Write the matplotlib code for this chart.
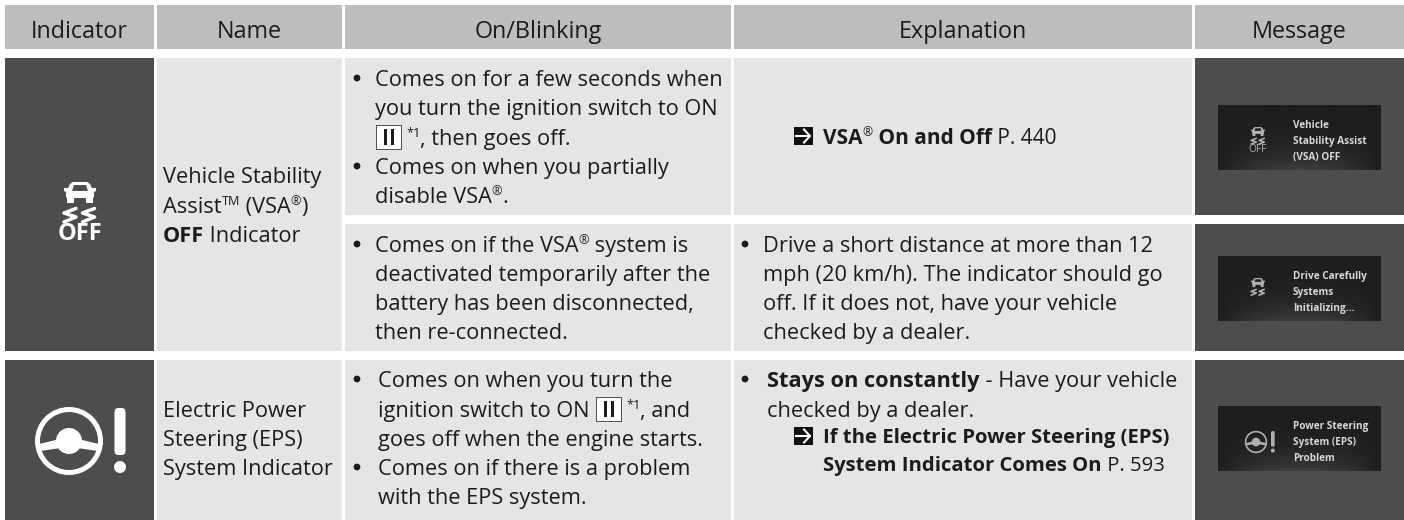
# Recreate the indicator table
import matplotlib
matplotlib.use('Agg')
import numpy as np
from matplotlib import pyplot as plt
from matplotlib.patches import Rectangle, Circle, Polygon, FancyBboxPatch
from matplotlib.colors import LinearSegmentedColormap

plt.rcParams['font.family'] = ['Open Sans', 'DejaVu Sans']

# table contents, 0 regular, 1 bold, 2 raised small, 3 raised small bold
headers = ['Indicator', 'Name', 'On/Blinking', 'Explanation', 'Message']

name_vsa = [[('Vehicle Stability', 0)],
            [('Assist', 0), ('TM', 2), (' (VSA', 0), ('®', 2), (')', 0)],
            [('OFF', 1), (' Indicator', 0)]]
name_eps = [[('Electric Power', 0)], [('Steering (EPS)', 0)], [('System Indicator', 0)]]

blink_1 = [[('Comes on for a few seconds when', 0)],
           [('you turn the ignition switch to ON', 0)],
           [('BOX', 0), ('*1', 2), (', then goes off.', 0)],
           [('Comes on when you partially', 0)],
           [('disable VSA', 0), ('®', 2), ('.', 0)]]
blink_1_bullets = [0, 3]
blink_2 = [[('Comes on if the VSA', 0), ('®', 2), (' system is', 0)],
           [('deactivated temporarily after the', 0)],
           [('battery has been disconnected,', 0)],
           [('then re-connected.', 0)]]
blink_2_bullets = [0]
blink_3 = [[('Comes on when you turn the', 0)],
           [('ignition switch to ON ', 0), ('BOX', 0), ('*1', 2), (', and', 0)],
           [('goes off when the engine starts.', 0)],
           [('Comes on if there is a problem', 0)],
           [('with the EPS system.', 0)]]
blink_3_bullets = [0, 3]

expl_1 = [('VSA', 1), ('®', 3), (' On and Off', 1), (' P. 440', 0)]
expl_2 = [[('Drive a short distance at more than 12', 0)],
          [('mph (20 km/h). The indicator should go', 0)],
          [('off. If it does not, have your vehicle', 0)],
          [('checked by a dealer.', 0)]]
expl_3 = [[('Stays on constantly', 1), (' - Have your vehicle', 0)],
          [('checked by a dealer.', 0)]]
expl_3_ref = [[('If the Electric Power Steering (EPS)', 1)],
              [('System Indicator Comes On', 1), (' P. 593', 0)]]

msg_1 = ['Vehicle', 'Stability Assist', '(VSA) OFF']
msg_2 = ['Drive Carefully', 'Systems', 'Initializing...']
msg_3 = ['Power Steering', 'System (EPS)', 'Problem']

HEAD = '#bdbdbd'
CELL = '#e5e5e5'
DARK = '#4d4d4d'
TXT = '#1c1c1c'
FS = 15.7
FS_HEAD = 16.8
FS_REF = 14.6

fig = plt.figure(figsize=(14.04, 5.2), dpi=100)
ax = fig.add_axes([0, 0, 1, 1])
ax.set_xlim(0, 1404)
ax.set_ylim(520, 0)
ax.axis('off')


def box(x0, y0, x1, y1, color, z=1):
    ax.add_patch(Rectangle((x0, y0), x1 - x0, y1 - y0, fc=color, ec='none', zorder=z))


def runs(x, y, parts, size=FS):
    # draw text pieces one after the other on one baseline
    rend = fig.canvas.get_renderer()
    for s, kind in parts:
        if s == 'BOX':
            box(x + 1, y - 20, x + 27, y + 5, '#555555', 3)
            box(x + 2, y - 19, x + 26, y + 4, 'white', 3)
            box(x + 9, y - 16, x + 12, y, TXT, 4)
            box(x + 15.5, y - 16, x + 18.5, y, TXT, 4)
            x += 31
            continue
        small = kind in (2, 3)
        t = ax.text(x, y - (8 if small else 0), s, fontsize=size * (0.58 if small else 1),
                    fontweight='bold' if kind == 1 else 'normal', color=TXT,
                    va='baseline', ha='left', zorder=5)
        x += t.get_window_extent(rend).width


def block(x, baselines, lines, bullets=(), bullet_x=None, size=FS):
    for i, (y, parts) in enumerate(zip(baselines, lines)):
        runs(x, y, parts, size)
        if i in bullets:
            ax.add_patch(Circle((bullet_x, y - 8), 3.4, fc=TXT, ec='none', zorder=5))


def arrow_icon(x, y):
    box(x, y, x + 19, y + 18, '#111111', 4)
    ax.plot([x + 2, x + 16], [y + 9, y + 9], color='white', lw=1.5, zorder=5)
    ax.plot([x + 10, x + 16, x + 10], [y + 2.5, y + 9, y + 15.5], color='white', lw=1.5, zorder=5)


def car_icon(cx, top, s=1.0, color='white', label=True, window=DARK):
    # car body, squiggles and OFF text, s=1 is the big one
    body = [(-10, 2), (-7, 0), (7, 0), (10, 2), (12, 6), (16, 6), (16, 9), (14, 10), (14, 15), (13, 16),
            (13, 21), (6, 21), (6, 16), (-6, 16), (-6, 21), (-13, 21), (-13, 16), (-14, 15), (-14, 10),
            (-16, 9), (-16, 6), (-12, 6)]
    ax.add_patch(Polygon([(cx + a * s, top + b * s) for a, b in body], fc=color, ec='none', zorder=5))
    win = [(-8, 9), (-6, 3), (6, 3), (8, 9)]
    ax.add_patch(Polygon([(cx + a * s, top + b * s) for a, b in win], fc=window, ec='none', zorder=6))
    for dx in (-10, 8.5):
        ax.plot([cx + (dx + 6) * s, cx + (dx - 6) * s, cx + (dx + 6) * s, cx + (dx - 6) * s],
                [top + 26.5 * s, top + 31 * s, top + 35 * s, top + 40 * s], color=color, lw=2.3 * s + 0.2,
                solid_capstyle='round', solid_joinstyle='round', zorder=5)
    if label:
        ax.text(cx, top + 58 * s, 'OFF', fontsize=17 * s, fontweight='bold' if s == 1 else 'normal',
                color=color, ha='center', va='baseline', zorder=5)


def wheel_icon(cx, cy, s=1.0, color='white'):
    ax.add_patch(Circle((cx, cy), 31.5 * s, fc='none', ec=color, lw=3.6 * s, zorder=5))
    ax.add_patch(Circle((cx, cy), 13 * s, fc=color, ec='none', zorder=5))
    ax.add_patch(Polygon([(cx - 9 * s, cy - 2 * s), (cx - 30 * s, cy + 3 * s), (cx - 29 * s, cy + 10 * s), (cx - 8 * s, cy + 7 * s)],
                         fc=color, ec='none', zorder=5))
    ax.add_patch(Polygon([(cx + 9 * s, cy - 2 * s), (cx + 30 * s, cy + 3 * s), (cx + 29 * s, cy + 10 * s), (cx + 8 * s, cy + 7 * s)],
                         fc=color, ec='none', zorder=5))
    ax.add_patch(FancyBboxPatch((cx + 49.5 * s, cy - 29 * s), 3 * s, 39 * s, boxstyle='round,pad=%f' % (4 * s),
                                fc=color, ec='none', zorder=5))
    ax.add_patch(Circle((cx + 51 * s, cy + 26 * s), 6 * s, fc=color, ec='none', zorder=5))


glow = LinearSegmentedColormap.from_list('glow', ['#1f1d1e', '#3c3c3c'])


def message(y0, y1, top, lines):
    box(1195, y0, 1404, y1, DARK)
    # dark screen with a faint light at the lower edge
    yy, xx = np.mgrid[0:1:40j, -1:1:80j]
    ax.imshow(np.clip(yy ** 3 * (1 - np.abs(xx) ** 2), 0, 1), extent=(1218, 1381, top + 65, top), cmap=glow,
              vmin=0, vmax=1, aspect='auto', zorder=2)
    for i, s in enumerate(lines):
        ax.text(1293, top + 23 + i * 16, s, fontsize=7.2, fontweight='bold', color='#d8d8d8',
                va='baseline', ha='left', zorder=5)


# header row
col_x = [(5, 154), (157, 342), (345, 731), (734, 1192), (1195, 1404)]
for (x0, x1), h in zip(col_x, headers):
    box(x0, 5, x1, 49, HEAD)
    ax.text((x0 + x1) / 2, 38, h, fontsize=FS_HEAD, color=TXT, ha='center', va='baseline', zorder=5)

# body cells
box(5, 58, 154, 351, DARK)
box(5, 360, 154, 520, DARK)
box(157, 58, 342, 351, CELL)
box(157, 360, 342, 520, CELL)
for x0, x1 in col_x[2:4]:
    box(x0, 58, x1, 215, CELL)
    box(x0, 224, x1, 351, CELL)
    box(x0, 360, x1, 520, CELL)

car_icon(80, 182, 1.0)
wheel_icon(69, 441, 1.0)

block(163, [183, 213, 242], name_vsa)
block(163, [417, 446, 475], name_eps)

block(375, [86, 115, 145, 174, 203], blink_1, blink_1_bullets, 357)
block(375, [252, 281, 310, 339], blink_2, blink_2_bullets, 357)
block(378, [387, 417, 446, 475, 504], blink_3, blink_3_bullets, 357)

arrow_icon(794, 127)
runs(823, 144, expl_1, 15.0)
block(763, [252, 281, 310, 339], expl_2, [0], 745)
block(767, [387, 417], expl_3, [0], 745)
arrow_icon(794, 427)
block(823, [443, 471], expl_3_ref, size=FS_REF)

message(58, 215, 105, msg_1)
message(224, 351, 256, msg_2)
message(360, 520, 406, msg_3)
car_icon(1258, 127, 0.43, '#b0b0b0', True, '#222222')
car_icon(1258, 278, 0.43, '#b0b0b0', False, '#222222')
wheel_icon(1256, 442, 0.33, '#b0b0b0')

ax.set_xlim(0, 1404)
ax.set_ylim(520, 0)
fig.savefig('out.png', dpi=100)
